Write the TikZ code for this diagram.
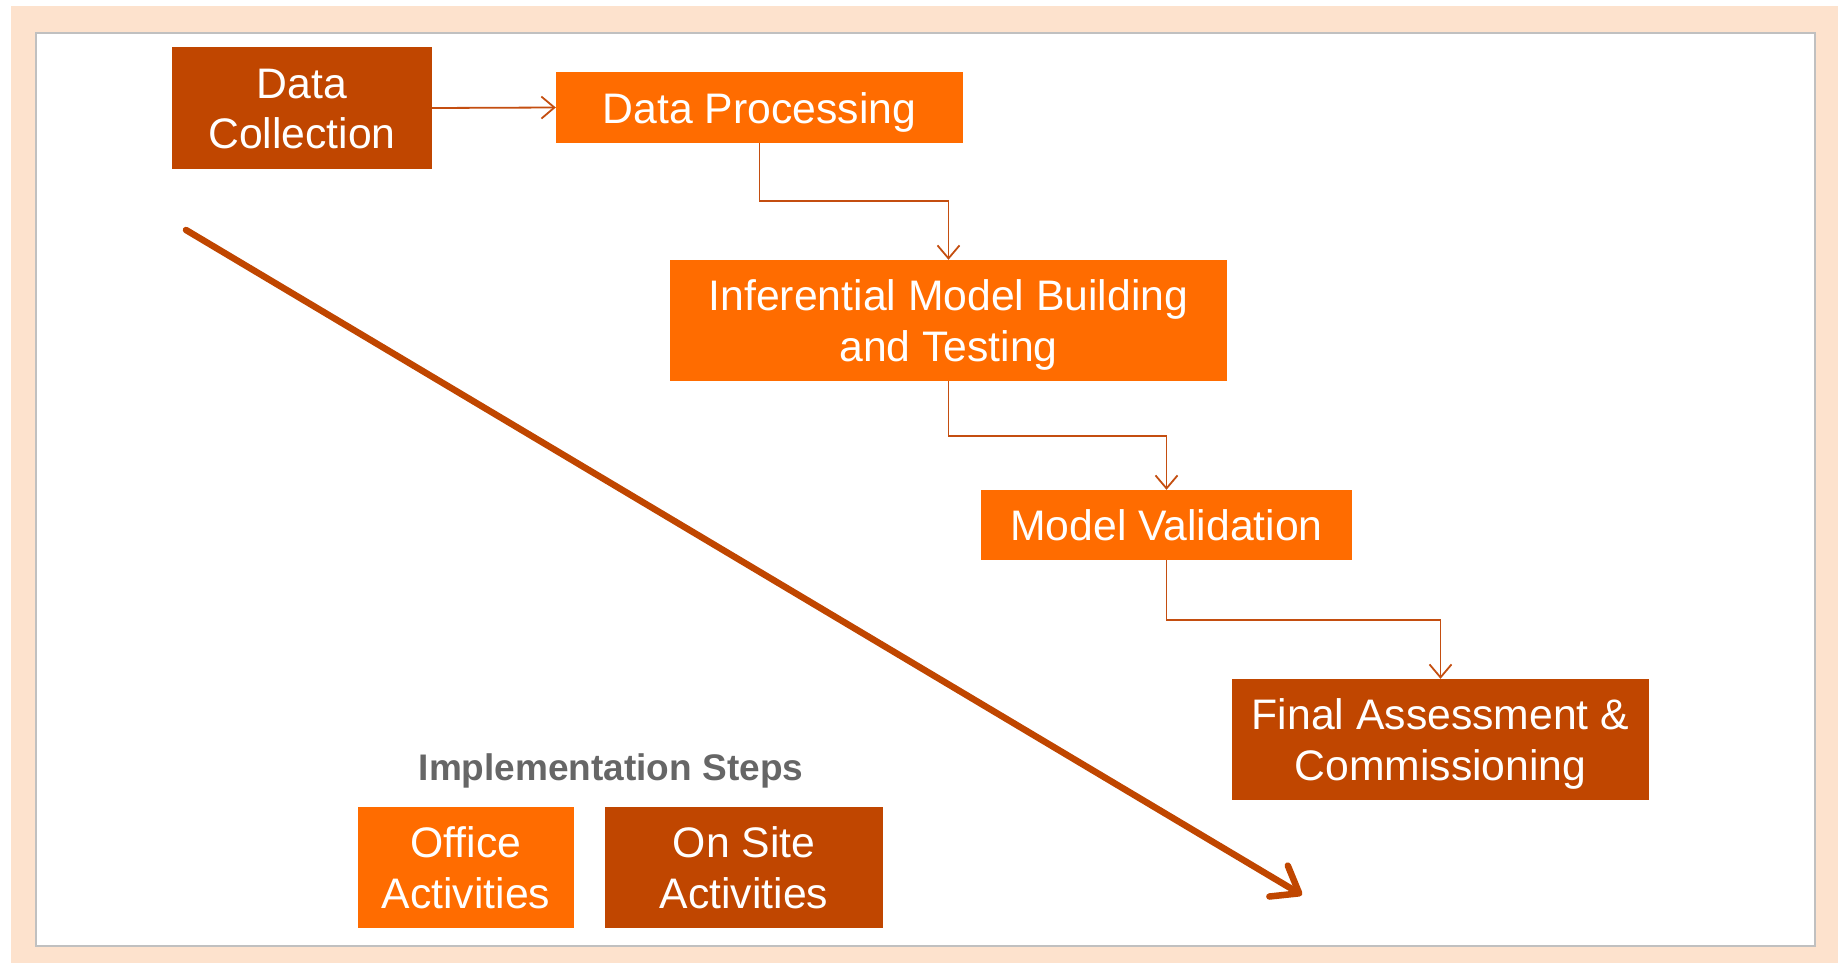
\documentclass[tikz,border=0pt]{standalone}
\usepackage{fontspec}
\usepackage{array}
\setmainfont{Liberation Sans}
\usetikzlibrary{arrows.meta}
\definecolor{rust}{RGB}{192,70,0}
\definecolor{tangerine}{RGB}{255,108,0}
\definecolor{peach}{RGB}{253,226,205}
\definecolor{framegray}{RGB}{192,192,192}
\definecolor{captiongray}{RGB}{102,102,102}
\definecolor{linkcolor}{RGB}{196,78,16}
% every text line gets the same ascent and descent, so boxes centre their lines evenly
\newcommand\linestrut{\rule[-9.6pt]{0pt}{50.5pt}}
\renewcommand\arraystretch{0}
\newcommand\boxlines[1]{\begin{tabular}{@{}>{\linestrut}c@{}}#1\end{tabular}}
\begin{document}
\begin{tikzpicture}[x=1pt,y=-1pt,
  box/.style={inner sep=0pt, text=white,
    font=\fontsize{42.7}{50.5}\selectfont},
  office/.style={box, fill=tangerine},
  onsite/.style={box, fill=rust},
  link/.style={draw=linkcolor, line width=1.8pt,
    -{Straight Barb[length=13pt,width=22pt,line width=1.8pt]}},
  trend/.style={draw=rust, line width=6.5pt, line cap=round,
    -{Straight Barb[length=24pt,width=36pt,line width=6.5pt,round]}}
]
% page, peach surround and framed panel
\useasboundingbox (0,0) rectangle (1847,966);
\fill[white] (0,0) rectangle (1847,966);
\fill[peach] (11,6) rectangle (1838,963);
\draw[framegray, line width=2.5pt, fill=white] (36,33) rectangle (1815,946);

% process steps
\node[onsite, minimum width=260pt, minimum height=122pt] (dc) at (302,108) {\boxlines{Data\\Collection}};
\node[office, minimum width=407pt, minimum height=71pt] (dp) at (759.5,107.5) {\boxlines{Data Processing}};
\node[office, minimum width=557pt, minimum height=121pt] (imb) at (948.5,320.5) {\boxlines{Inferential Model Building\\and Testing}};
\node[office, minimum width=371pt, minimum height=70pt] (mv) at (1166.5,525) {\boxlines{Model Validation}};
\node[onsite, minimum width=417pt, minimum height=121pt] (fa) at (1440.5,739.5) {\boxlines{Final Assessment \&\\Commissioning}};

% connectors
\draw[link] (dc.east) -- (dp.west);
\draw[link] (dp.south) -- ++(0,58) -| (imb.north);
\draw[link] (imb.south) -- ++(0,55) -| (mv.north);
\draw[link] (mv.south) -- ++(0,60) -| (fa.north);

% overall direction arrow
\coordinate (trendstart) at (186,230);
\coordinate (trendend) at (1302,895);
\draw[trend] (trendstart) -- (trendend);

% legend
\node[text=captiongray, font=\fontsize{37}{40}\selectfont\bfseries] (legendtitle) at (611,771) {Implementation Steps};
\node[office, minimum width=216pt, minimum height=121pt] (legoffice) at (466,867.5) {\boxlines{Office\\Activities}};
\node[onsite, minimum width=278pt, minimum height=121pt] (legsite) at (744,867.5) {\boxlines{On Site\\Activities}};
\end{tikzpicture}
\end{document}
